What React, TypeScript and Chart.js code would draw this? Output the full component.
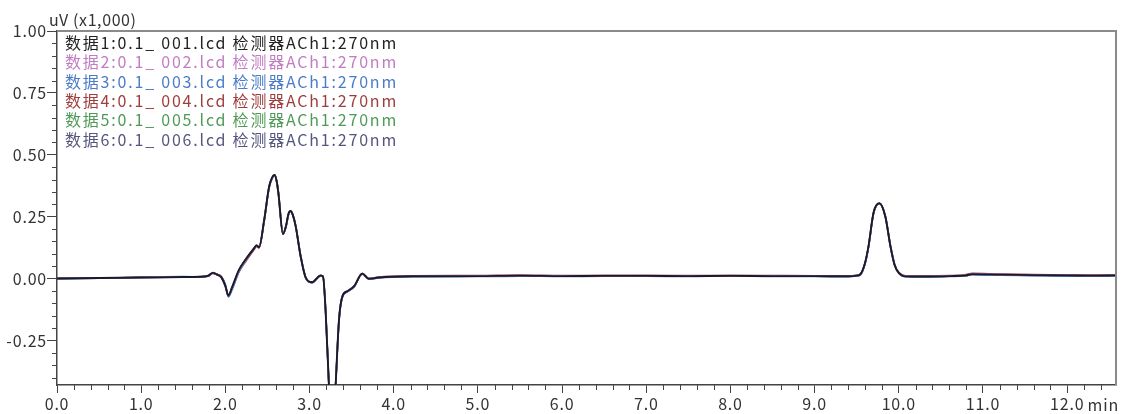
import React, { useEffect, useRef } from "react";
import { Chart, registerables } from "chart.js";

Chart.register(...registerables);

const times = [
  0, 0.5, 1.0, 1.5, 1.75, 1.8, 1.85, 1.9, 1.95, 2.0,
  2.035, 2.08, 2.16, 2.24, 2.34, 2.37, 2.4, 2.46, 2.52, 2.555,
  2.585, 2.61, 2.63, 2.684, 2.72, 2.75, 2.775, 2.8, 2.835, 2.894,
  2.954, 3.03, 3.13, 3.16, 3.19, 3.23, 3.27, 3.31, 3.35, 3.39,
  3.45, 3.53, 3.626, 3.705, 3.82, 4.22, 5.0, 5.5, 6.0, 6.5,
  7.0, 7.5, 8.0, 8.5, 9.0, 9.4, 9.5, 9.545, 9.6, 9.64,
  9.7, 9.77, 9.84, 9.9, 9.95, 10.0, 10.08, 10.3, 10.6, 10.8,
  10.87, 11.2, 11.6, 12.0, 12.3, 12.58,
];

const series1 = [
  0.0, 0.002, 0.004, 0.006, 0.008, 0.012, 0.023, 0.016, 0.006, -0.03,
  -0.069, -0.035, 0.034, 0.077, 0.122, 0.134, 0.126, 0.235, 0.372, 0.408,
  0.419, 0.392, 0.345, 0.18, 0.212, 0.262, 0.273, 0.258, 0.212, 0.09,
  0.004, -0.015, 0.012, 0.008, -0.126, -0.43, -0.7, -0.43, -0.166, -0.072,
  -0.051, -0.031, 0.02, -0.001, 0.004, 0.009, 0.01, 0.012, 0.01, 0.011,
  0.011, 0.01, 0.011, 0.01, 0.01, 0.009, 0.012, 0.018, 0.065, 0.131,
  0.267, 0.304, 0.25, 0.131, 0.055, 0.023, 0.009, 0.008, 0.01, 0.013,
  0.018, 0.016, 0.014, 0.013, 0.012, 0.013,
];
const series2 = [
  0.001, 0.003, 0.003, 0.007, 0.008, 0.013, 0.022, 0.015, 0.005, -0.032,
  -0.068, -0.036, 0.031, 0.075, 0.121, 0.133, 0.125, 0.233, 0.37, 0.406,
  0.417, 0.39, 0.343, 0.179, 0.21, 0.26, 0.271, 0.257, 0.211, 0.089,
  0.003, -0.016, 0.011, 0.007, -0.128, -0.432, -0.702, -0.428, -0.164, -0.071,
  -0.05, -0.03, 0.019, 0.0, 0.005, 0.01, 0.011, 0.013, 0.011, 0.01,
  0.012, 0.011, 0.01, 0.011, 0.009, 0.01, 0.013, 0.017, 0.063, 0.129,
  0.265, 0.302, 0.248, 0.129, 0.054, 0.022, 0.01, 0.009, 0.011, 0.014,
  0.019, 0.017, 0.015, 0.014, 0.013, 0.014,
];
const series3 = [
  -0.002, 0.001, 0.005, 0.008, 0.007, 0.01, 0.021, 0.017, 0.008, -0.024,
  -0.074, -0.046, 0.026, 0.072, 0.12, 0.132, 0.127, 0.23, 0.368, 0.405,
  0.418, 0.394, 0.35, 0.184, 0.208, 0.258, 0.272, 0.26, 0.216, 0.095,
  0.006, -0.018, 0.01, 0.009, -0.12, -0.425, -0.698, -0.435, -0.172, -0.077,
  -0.054, -0.034, 0.018, -0.003, 0.002, 0.007, 0.008, 0.01, 0.008, 0.009,
  0.009, 0.008, 0.01, 0.008, 0.008, 0.007, 0.01, 0.015, 0.06, 0.126,
  0.262, 0.302, 0.254, 0.136, 0.058, 0.021, 0.007, 0.006, 0.008, 0.011,
  0.016, 0.014, 0.012, 0.01, 0.01, 0.011,
];
const series4 = [
  0.001, 0.002, 0.005, 0.006, 0.009, 0.012, 0.024, 0.018, 0.009, -0.026,
  -0.066, -0.04, 0.026, 0.068, 0.116, 0.13, 0.124, 0.228, 0.366, 0.404,
  0.418, 0.393, 0.348, 0.183, 0.209, 0.259, 0.272, 0.259, 0.214, 0.093,
  0.005, -0.014, 0.013, 0.009, -0.122, -0.428, -0.699, -0.432, -0.17, -0.075,
  -0.052, -0.032, 0.021, 0.0, 0.006, 0.011, 0.012, 0.014, 0.012, 0.013,
  0.013, 0.012, 0.013, 0.012, 0.011, 0.01, 0.013, 0.019, 0.062, 0.127,
  0.264, 0.303, 0.252, 0.134, 0.057, 0.024, 0.011, 0.01, 0.012, 0.016,
  0.021, 0.018, 0.016, 0.015, 0.014, 0.015,
];
const series5 = [
  0.0, 0.002, 0.004, 0.006, 0.008, 0.012, 0.023, 0.016, 0.007, -0.029,
  -0.068, -0.036, 0.032, 0.075, 0.121, 0.133, 0.126, 0.233, 0.371, 0.407,
  0.418, 0.391, 0.344, 0.18, 0.211, 0.261, 0.272, 0.258, 0.212, 0.09,
  0.004, -0.015, 0.012, 0.008, -0.125, -0.43, -0.7, -0.43, -0.166, -0.072,
  -0.051, -0.031, 0.02, -0.001, 0.004, 0.009, 0.01, 0.011, 0.01, 0.011,
  0.011, 0.01, 0.011, 0.01, 0.01, 0.009, 0.012, 0.018, 0.064, 0.13,
  0.266, 0.303, 0.25, 0.131, 0.055, 0.023, 0.009, 0.008, 0.01, 0.013,
  0.018, 0.016, 0.014, 0.013, 0.012, 0.013,
];
const series6 = [
  0.0, 0.001, 0.004, 0.005, 0.008, 0.011, 0.022, 0.016, 0.006, -0.031,
  -0.07, -0.037, 0.033, 0.076, 0.122, 0.134, 0.126, 0.234, 0.371, 0.408,
  0.419, 0.391, 0.344, 0.179, 0.212, 0.262, 0.273, 0.258, 0.211, 0.089,
  0.003, -0.016, 0.012, 0.008, -0.127, -0.431, -0.701, -0.431, -0.167, -0.073,
  -0.052, -0.032, 0.019, -0.002, 0.003, 0.008, 0.009, 0.011, 0.009, 0.01,
  0.01, 0.009, 0.01, 0.009, 0.009, 0.008, 0.011, 0.017, 0.064, 0.13,
  0.266, 0.304, 0.25, 0.131, 0.055, 0.022, 0.008, 0.007, 0.009, 0.012,
  0.017, 0.015, 0.013, 0.012, 0.011, 0.012,
];

const seriesNames = [
  "数据1:0.1_ 001.lcd 检测器ACh1:270nm",
  "数据2:0.1_ 002.lcd 检测器ACh1:270nm",
  "数据3:0.1_ 003.lcd 检测器ACh1:270nm",
  "数据4:0.1_ 004.lcd 检测器ACh1:270nm",
  "数据5:0.1_ 005.lcd 检测器ACh1:270nm",
  "数据6:0.1_ 006.lcd 检测器ACh1:270nm",
];
const seriesValues = [series1, series2, series3, series4, series5, series6];
const lineColors = ["#1b1a28", "#c27cc2", "#4a7cc8", "#9e3d3d", "#4f9a57", "#55557f"];
const textColors = ["#222222", "#c27cc2", "#4a7cc8", "#9e3d3d", "#4f9a57", "#55557f"];

const xTicks = [0, 1, 2, 3, 4, 5, 6, 7, 8, 9, 10, 11, 12];
const yTicks = [-0.25, 0, 0.25, 0.5, 0.75, 1.0];
const xMin = 0;
const xMax = 12.58;
const yMin = -0.43;
const yMax = 1.0;
const yUnitLabel = "uV (x1,000)";
const xUnitLabel = "min";

const FONT = "'Noto Sans CJK SC', 'Noto Sans', sans-serif";

const spacingPlugin = {
  id: "spacing",
  beforeDraw(chart: any) {
    chart.ctx.letterSpacing = "0.8px";
  },
};

const overlayPlugin = {
  id: "overlay",
  afterDraw(chart: any) {
    const { ctx, chartArea, scales } = chart;
    const { left, right, top, bottom } = chartArea;
    const xs = scales.x;
    const ys = scales.y;
    ctx.save();
    // top & right frame
    ctx.strokeStyle = "#8a8a8a";
    ctx.lineWidth = 2;
    ctx.beginPath();
    ctx.moveTo(left, top);
    ctx.lineTo(right, top);
    ctx.lineTo(right, bottom);
    ctx.stroke();
    // minor ticks
    ctx.strokeStyle = "#444";
    ctx.lineWidth = 1;
    ctx.beginPath();
    for (let i = 1; i * 0.2 <= xMax; i++) {
      if (i % 5 === 0) continue;
      const px = Math.round(xs.getPixelForValue(i * 0.2)) + 0.5;
      ctx.moveTo(px, bottom);
      ctx.lineTo(px, bottom + 5);
    }
    for (let j = -8; j <= 20; j++) {
      if (j % 5 === 0) continue;
      const v = j * 0.05;
      if (v < yMin || v > yMax) continue;
      const py = Math.round(ys.getPixelForValue(v)) + 0.5;
      ctx.moveTo(left - 5, py);
      ctx.lineTo(left, py);
    }
    ctx.stroke();
    // unit labels
    ctx.font = `16px ${FONT}`;
    ctx.fillStyle = "#333";
    ctx.textBaseline = "middle";
    ctx.textAlign = "left";
    ctx.letterSpacing = "0.6px";
    ctx.fillText(yUnitLabel, 49, 20);
    ctx.textAlign = "right";
    ctx.letterSpacing = "0.8px";
    ctx.fillText(xUnitLabel, 1119, 405);
    // legend
    ctx.textAlign = "left";
    ctx.letterSpacing = "1.8px";
    ctx.font = `16px ${FONT}`;
    seriesNames.forEach((name, i) => {
      ctx.fillStyle = textColors[i];
      ctx.fillText(name, 65, 43 + i * 19.3);
    });
    ctx.restore();
  },
};

export default function App() {
  const ref = useRef<HTMLCanvasElement | null>(null);
  useEffect(() => {
    if (!ref.current) return;
    const chart = new Chart(ref.current, {
      type: "line",
      data: {
        datasets: seriesValues.map((vals, i) => ({
          label: seriesNames[i],
          data: times.map((t, k) => ({ x: t, y: vals[k] })),
          borderColor: lineColors[i],
          borderWidth: i === 0 ? 1.9 : 1.6,
          pointRadius: 0,
          fill: false,
          cubicInterpolationMode: "monotone" as const,
        })),
      },
      options: {
        animation: false,
        responsive: false,
        layout: { padding: { top: 31, right: 9, left: 0, bottom: 0 } },
        plugins: { legend: { display: false }, tooltip: { enabled: false }, title: { display: false } },
        scales: {
          x: {
            type: "linear",
            min: xMin,
            max: xMax,
            afterBuildTicks: (s: any) => {
              s.ticks = xTicks.map((v) => ({ value: v }));
            },
            afterFit: (s: any) => {
              s.height = 29;
            },
            grid: { drawOnChartArea: false, drawTicks: true, tickLength: 8, tickColor: "#444", tickWidth: 1 },
            border: { display: true, color: "#444", width: 1.5 },
            ticks: {
              autoSkip: false,
              maxRotation: 0,
              padding: 1,
              color: "#333",
              font: { family: FONT, size: 16 },
              callback: (v: any) => Number(v).toFixed(1),
            },
          },
          y: {
            type: "linear",
            min: yMin,
            max: yMax,
            afterBuildTicks: (s: any) => {
              s.ticks = yTicks.map((v) => ({ value: v }));
            },
            afterFit: (s: any) => {
              s.width = 57;
            },
            grid: { drawOnChartArea: false, drawTicks: true, tickLength: 10, tickColor: "#444", tickWidth: 1 },
            border: { display: true, color: "#444", width: 1.5 },
            ticks: {
              autoSkip: false,
              padding: 0,
              color: "#333",
              font: { family: FONT, size: 16 },
              callback: (v: any) => Number(v).toFixed(2),
            },
          },
        },
      },
      plugins: [spacingPlugin, overlayPlugin],
    });
    return () => chart.destroy();
  }, []);
  return (
    <div style={{ position: "absolute", left: 0, top: 0, width: 1125, height: 414, background: "#fff" }}>
      <canvas ref={ref} width={1125} height={414} style={{ display: "block" }} />
    </div>
  );
}
